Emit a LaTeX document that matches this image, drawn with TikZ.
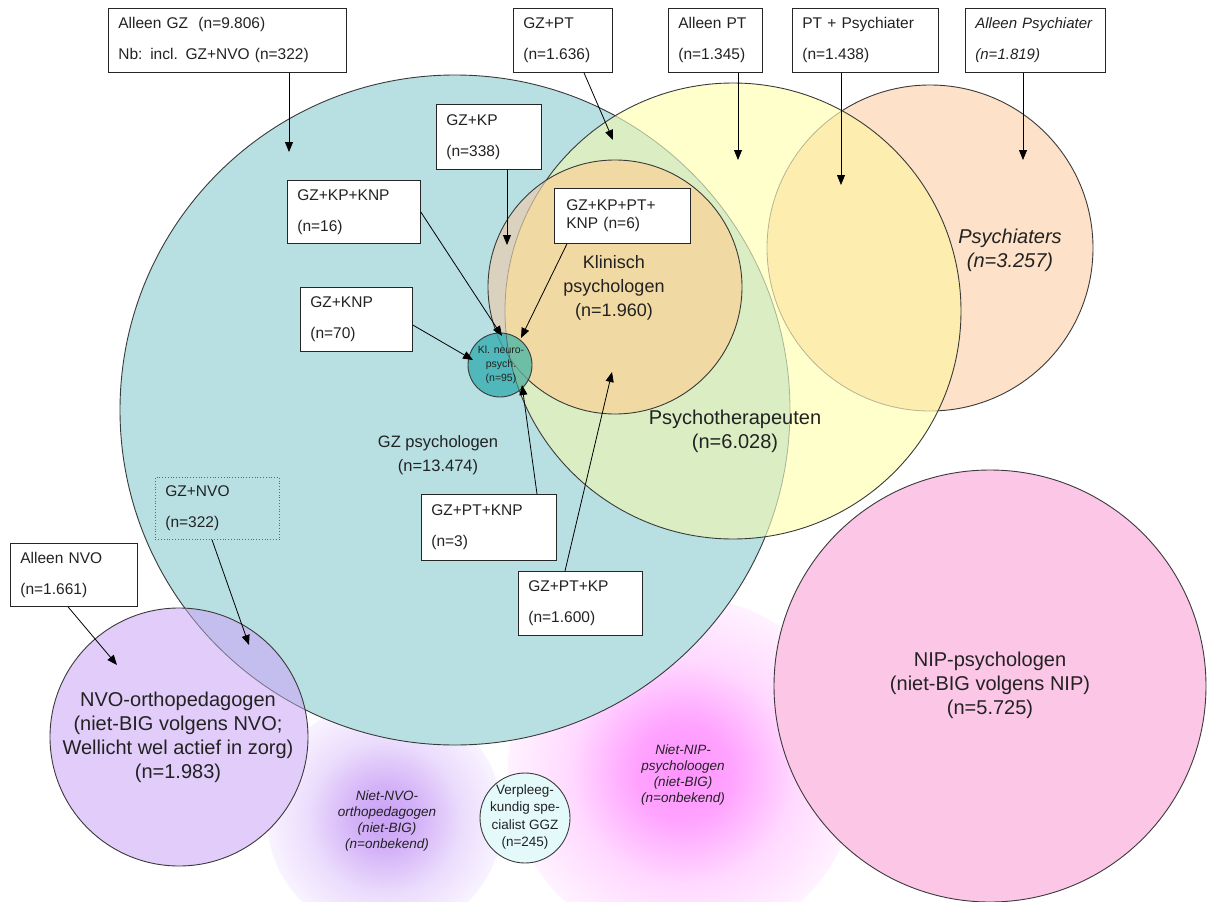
\documentclass[tikz,border=0pt]{standalone}
\usepackage{fontspec}
\setmainfont{Liberation Sans}
\usetikzlibrary{arrows.meta}
\definecolor{tealc}{HTML}{B8E0E3}
\definecolor{yellowc}{HTML}{FFFFCC}
\definecolor{greenc}{HTML}{DAEDC3}
\definecolor{peachc}{HTML}{FDE1C9}
\definecolor{goldc}{HTML}{FDEEB0}
\definecolor{orangec}{HTML}{F0D9A2}
\definecolor{beigec}{HTML}{DAD2BE}
\definecolor{knpc}{HTML}{50B8BA}
\definecolor{knpgc}{HTML}{6EBEA5}
\definecolor{nvoc}{HTML}{E1CCFA}
\definecolor{nvotc}{HTML}{C4BEEE}
\definecolor{nipc}{HTML}{FCC6E6}
\definecolor{vpc}{HTML}{E4FAFA}
\definecolor{edgec}{HTML}{3A3A3A}
\definecolor{txtc}{HTML}{222222}
\pgfdeclareradialshading{nvoblob}{\pgfpointorigin}{rgb(0bp)=(0.79,0.63,0.96); rgb(7bp)=(0.83,0.70,0.97); rgb(16bp)=(0.92,0.86,0.99); rgb(25bp)=(0.975,0.955,1); rgb(31bp)=(0.995,0.99,1); rgb(33bp)=(1,1,1); rgb(50bp)=(1,1,1)}
\pgfdeclareradialshading{nipblob}{\pgfpointorigin}{rgb(0bp)=(1,0.58,1); rgb(7bp)=(1,0.64,1); rgb(16bp)=(1,0.85,1); rgb(25bp)=(1,0.95,1); rgb(31bp)=(1,0.99,1); rgb(33bp)=(1,1,1); rgb(50bp)=(1,1,1)}
\tikzset{
  edge/.style={draw=edgec, line width=0.9pt},
  edgefaint/.style={draw=edgec, draw opacity=0.35, line width=0.8pt},
  edgemid/.style={draw=edgec, draw opacity=0.6, line width=0.8pt},
  box/.style={draw=black!85, line width=0.8pt, fill=white, anchor=north west,
    inner xsep=10pt, inner ysep=0pt, align=left, text=txtc,
    font=\fontsize{15.5}{18}\selectfont},
  dotbox/.style={box, fill=none, draw=black!60, dotted},
  arr/.style={draw=black, line width=0.8pt, -{Triangle[length=10pt,width=8pt]}},
  biglbl/.style={align=center, text=txtc, font=\fontsize{20}{24}\selectfont},
  smalllbl/.style={align=center, text=txtc, font=\fontsize{13.5}{16.3}\selectfont\itshape},
}
\begin{document}
\begin{tikzpicture}[x=1pt,y=-1pt]
\useasboundingbox (0,0) rectangle (1208,902);
\fill[white] (0,0) rectangle (1208,902);
% centres
\coordinate (cGZ) at (455,410);
\coordinate (cPT) at (733,311);
\coordinate (cPS) at (930,248);
\coordinate (cKP) at (615,287);
\coordinate (cKNP) at (500,365);
\coordinate (cNVO) at (179,737);
\coordinate (cNIP) at (990,686);
\coordinate (cVP) at (525,818);
\coordinate (cB1) at (385,818);
\coordinate (cB2) at (683,772);
% fuzzy blobs
\shade[shading=nvoblob] (cB1) circle (118pt);
\shade[shading=nipblob] (cB2) circle (175pt);
% GZ
\fill[tealc] (cGZ) circle (335pt);
\draw[edge] (cGZ) circle (335pt);
% Psychiaters
\fill[peachc] (cPS) circle (163pt);
\draw[edge] (cPS) circle (163pt);
% Psychotherapeuten
\fill[yellowc] (cPT) circle (228pt);
\begin{scope}
  \clip (cPT) circle (228pt);
  \fill[greenc] (cGZ) circle (335pt);
  \fill[goldc] (cPS) circle (163pt);
  \draw[edgefaint] (cGZ) circle (335pt);
  \draw[edgefaint] (cPS) circle (163pt);
\end{scope}
\draw[edge] (cPT) circle (228pt);
% Klinisch psychologen
\fill[beigec] (cKP) circle (127pt);
\begin{scope}
  \clip (cKP) circle (127pt);
  \fill[orangec] (cPT) circle (228pt);
  \draw[edgefaint] (cPT) circle (228pt);
\end{scope}
\draw[edge] (cKP) circle (127pt);
% Kl. neuropsych
\fill[knpc] (cKNP) circle (32pt);
\begin{scope}
  \clip (cKNP) circle (32pt);
  \fill[knpgc] (cPT) circle (228pt);
  \draw[edgemid] (cPT) circle (228pt);
  \draw[edgefaint] (cKP) circle (127pt);
\end{scope}
\draw[edge] (cKNP) circle (32pt);
% NVO
\fill[nvoc] (cNVO) circle (129pt);
\begin{scope}
  \clip (cNVO) circle (129pt);
  \fill[nvotc] (cGZ) circle (335pt);
  \draw[edgemid] (cGZ) circle (335pt);
\end{scope}
\draw[edge] (cNVO) circle (129pt);
% NIP
\fill[nipc] (cNIP) circle (216pt);
\draw[edge] (cNIP) circle (216pt);
% Verpleegkundig
\fill[vpc] (cVP) circle (45pt);
\draw[edge] (cVP) circle (45pt);

% circle labels
\node[biglbl, font=\fontsize{16.5}{24}\selectfont] (lGZ) at (438,455) {GZ psychologen\\(n=13.474)};
\node[biglbl, font=\fontsize{18}{24}\selectfont] (lKP) at (614,288) {Klinisch\\psychologen\\(n=1.960)};
\node[biglbl] (lPT) at (735,431) {Psychotherapeuten\\(n=6.028)};
\node[biglbl, font=\fontsize{20}{24}\selectfont\itshape] (lPS) at (1010,250) {Psychiaters\\(n=3.257)};
\node[biglbl] (lNIP) at (990,685) {NIP-psychologen\\(niet-BIG volgens NIP)\\(n=5.725)};
\node[biglbl] (lNVO) at (178,737) {NVO-orthopedagogen\\(niet-BIG volgens NVO;\\Wellicht wel actief in zorg)\\(n=1.983)};
\node[align=center, text=txtc, font=\fontsize{10.5}{14}\selectfont] (lKNP) at (501,365) {Kl. neuro-\\psych.\\(n=95)};
\node[smalllbl] (lB1) at (387,821) {Niet-NVO-\\orthopedagogen\\(niet-BIG)\\(n=onbekend)};
\node[smalllbl] (lB2) at (683,775) {Niet-NIP-\\psycholoogen\\(niet-BIG)\\(n=onbekend)};
\node[align=center, text=txtc, font=\fontsize{13.5}{17.5}\selectfont] (lVP) at (525,817) {Verpleeg-\\kundig spe-\\cialist GGZ\\(n=245)};

% boxes
\node[box, text width=218pt, minimum height=64pt] (algz) at (108,8) {Alleen GZ\ \ (n=9.806)\\[13pt]Nb: incl. GZ+NVO (n=322)};
\node[box, text width=79pt, minimum height=64pt] (gzpt) at (513,8) {GZ+PT\\[13pt](n=1.636)};
\node[box, text width=74pt, minimum height=64pt] (alpt) at (668,8) {Alleen PT\\[13pt](n=1.345)};
\node[box, text width=126pt, minimum height=64pt] (ptps) at (792,8) {PT + Psychiater\\[13pt](n=1.438)};
\node[box, text width=128pt, inner xsep=6pt, minimum height=64pt, font=\fontsize{15}{18}\selectfont\itshape] (alps) at (965,8) {\hspace*{4pt}Alleen Psychiater\\[13pt]\hspace*{4pt}(n=1.819)};
\node[box, text width=85pt, minimum height=65pt] (gzkp) at (436,104) {GZ+KP\\[13pt](n=338)};
\node[box, text width=113pt, minimum height=63pt] (gzkpknp) at (287,180) {GZ+KP+KNP\\[13pt](n=16)};
\node[box, minimum height=55pt, inner xsep=12pt, text width=112pt] (gzkpptknp) at (554,188) {GZ+KP+PT+\\KNP (n=6)};
\node[box, text width=92pt, minimum height=64pt] (gzknp) at (300,287) {GZ+KNP\\[13pt](n=70)};
\node[box, text width=115pt, minimum height=66pt] (gzptknp) at (421,494) {GZ+PT+KNP\\[13pt](n=3)};
\node[box, text width=104pt, minimum height=64pt] (gzptkp) at (518,571) {GZ+PT+KP\\[13pt](n=1.600)};
\node[dotbox, text width=104pt, minimum height=62pt] (gznvo) at (155,477) {GZ+NVO\\[13pt](n=322)};
\node[box, text width=107pt, minimum height=63pt] (alnvo) at (10,543) {Alleen NVO\\[13pt](n=1.661)};

% arrow tips
\coordinate (tA) at (289,152);
\coordinate (tB) at (613,140);
\coordinate (tC) at (738,160);
\coordinate (tD) at (841,185);
\coordinate (tE) at (1023,160);
\coordinate (tF) at (507,245);
\coordinate (tG) at (502,336);
\coordinate (tH) at (521,338);
\coordinate (tI) at (473,360);
\coordinate (tJ) at (522,385);
\coordinate (tK) at (612,372);
\coordinate (tL) at (249,645);
\coordinate (tM) at (117,665);

\draw[arr] ([xshift=181pt]algz.south west) -- (tA);
\draw[arr] ([xshift=71pt]gzpt.south west) -- (tB);
\draw[arr] ([xshift=70pt]alpt.south west) -- (tC);
\draw[arr] ([xshift=49pt]ptps.south west) -- (tD);
\draw[arr] ([xshift=58pt]alps.south west) -- (tE);
\draw[arr] ([xshift=71pt]gzkp.south west) -- (tF);
\draw[arr] ([yshift=-32pt]gzkpknp.north east) -- (tG);
\draw[arr] ([xshift=13pt]gzkpptknp.south west) -- (tH);
\draw[arr] ([yshift=-38pt]gzknp.north east) -- (tI);
\draw[arr] ([xshift=116pt]gzptknp.north west) -- (tJ);
\draw[arr] ([xshift=47pt]gzptkp.north west) -- (tK);
\draw[arr] ([xshift=57pt]gznvo.south west) -- (tL);
\draw[arr] ([xshift=58pt]alnvo.south west) -- (tM);
\end{tikzpicture}
\end{document}
